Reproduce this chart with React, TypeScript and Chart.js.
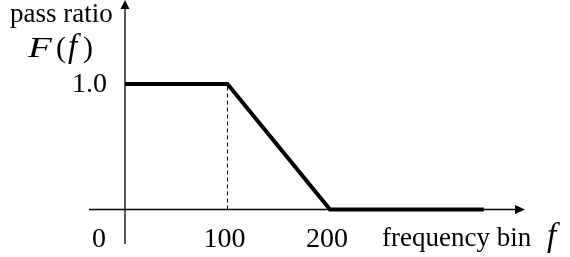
import React, { useEffect, useRef } from "react";
import { Chart, registerables } from "chart.js";

Chart.register(...registerables);

// ---- data ----
const freqBins = [0, 100, 200, 350];
const passRatio = [1, 1, 0, 0];
const cutoffBin = 100;
const xTickValues = [0, 100, 200];
const xTickLabels = ["0", "100", "200"];
const yTickValues = [1];
const yTickLabels = ["1.0"];
const yTitle = "pass ratio";
const xTitle = "frequency bin";

const SERIF = '"Liberation Serif", "Times New Roman", serif';

const axesPlugin = {
  id: "axesPlugin",
  afterDraw(chart: any) {
    const ctx = chart.ctx as CanvasRenderingContext2D;
    const xs = chart.scales.x;
    const ys = chart.scales.y;
    const x0 = xs.getPixelForValue(0);
    const y0 = ys.getPixelForValue(0);
    ctx.save();
    ctx.strokeStyle = "#000";
    ctx.fillStyle = "#000";
    ctx.lineWidth = 1.3;
    // x axis
    ctx.beginPath();
    ctx.moveTo(89, y0);
    ctx.lineTo(518, y0);
    ctx.stroke();
    ctx.beginPath();
    ctx.moveTo(525, y0);
    ctx.lineTo(515, y0 - 4.5);
    ctx.lineTo(515, y0 + 4.5);
    ctx.closePath();
    ctx.fill();
    // y axis
    ctx.beginPath();
    ctx.moveTo(x0, 244);
    ctx.lineTo(x0, 7);
    ctx.stroke();
    ctx.beginPath();
    ctx.moveTo(x0, 0);
    ctx.lineTo(x0 - 4.5, 9);
    ctx.lineTo(x0 + 4.5, 9);
    ctx.closePath();
    ctx.fill();

    // x tick labels
    ctx.font = `28px ${SERIF}`;
    ctx.textBaseline = "alphabetic";
    xTickValues.forEach((v, i) => {
      const px = xs.getPixelForValue(v);
      if (v === 0) {
        ctx.textAlign = "right";
        ctx.fillText(xTickLabels[i], px - 19, 247);
      } else {
        ctx.textAlign = "center";
        ctx.fillText(xTickLabels[i], px - 3, 247);
      }
    });
    // y tick labels
    ctx.textAlign = "right";
    ctx.textBaseline = "middle";
    yTickValues.forEach((v, i) => {
      ctx.fillText(yTickLabels[i], 107, ys.getPixelForValue(v) + 1);
    });

    // titles
    ctx.textBaseline = "alphabetic";
    ctx.textAlign = "left";
    ctx.font = `27px ${SERIF}`;
    ctx.fillText(yTitle, 10, 22);
    ctx.fillText(xTitle, 382, 246);

    // F(f)
    ctx.font = `italic 30px ${SERIF}`;
    ctx.save();
    ctx.translate(28, 57);
    ctx.scale(1.3, 1);
    ctx.fillText("F", 0, 0);
    ctx.restore();
    ctx.font = `30px ${SERIF}`;
    ctx.fillText("(", 56, 57);
    ctx.font = `italic 33px ${SERIF}`;
    ctx.fillText("f", 68, 57);
    ctx.font = `30px ${SERIF}`;
    ctx.fillText(")", 83, 57);

    // axis variable f
    ctx.font = `italic 33px ${SERIF}`;
    ctx.fillText("f", 547, 246);
    ctx.restore();
  },
};

export default function App() {
  const ref = useRef<HTMLCanvasElement | null>(null);
  useEffect(() => {
    if (!ref.current) return;
    const chart = new Chart(ref.current, {
      type: "line",
      data: {
        datasets: [
          {
            data: freqBins.map((f, i) => ({ x: f, y: passRatio[i] })),
            borderColor: "#000",
            borderWidth: 4,
            pointRadius: 0,
            tension: 0,
            borderJoinStyle: "miter",
            borderCapStyle: "butt",
            fill: false,
          },
          {
            data: [
              { x: cutoffBin, y: 0 },
              { x: cutoffBin, y: 1 },
            ],
            borderColor: "#000",
            borderWidth: 1,
            borderDash: [4, 3],
            pointRadius: 0,
            fill: false,
          },
        ],
      },
      options: {
        responsive: false,
        animation: false,
        layout: { padding: { left: 84, right: 14.5, top: 33.8, bottom: 9.85 } },
        plugins: {
          legend: { display: false },
          tooltip: { enabled: false },
        },
        scales: {
          x: { type: "linear", min: -40, max: 420, display: false },
          y: { type: "linear", min: -0.3, max: 1.4, display: false },
        },
      },
      plugins: [axesPlugin],
    });
    return () => chart.destroy();
  }, []);
  return (
    <div style={{ position: "fixed", left: 0, top: 0, width: 570, height: 257, background: "#fff" }}>
      <canvas ref={ref} width={570} height={257} style={{ width: 570, height: 257, display: "block" }} />
    </div>
  );
}
